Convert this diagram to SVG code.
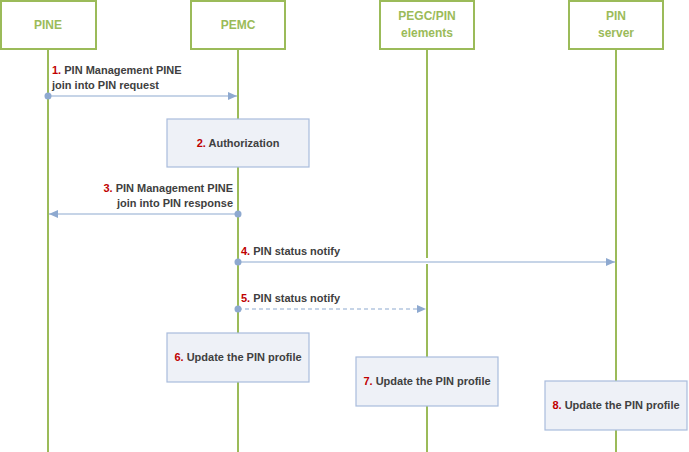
<svg xmlns="http://www.w3.org/2000/svg" width="689" height="452" viewBox="0 0 689 452">
<style>
text{font-family:"Liberation Sans",Arial,sans-serif;font-weight:bold}
.hdr{fill:#fff;stroke:#9BBB59;stroke-width:2}
.life{stroke:#9BBB59;stroke-width:2}
.ht{fill:#9BBB59;font-size:12px;text-anchor:middle}
.act{fill:#EEF1F7;stroke:#A9BCDC;stroke-width:1.2}
.t{fill:#404040;font-size:11px}
.n{fill:#C00000}
.msg{stroke:#8EA9D0;stroke-width:1.2;fill:none}
.dash{stroke-dasharray:4 3}
.dot{fill:#8EA9D0}
</style>
<defs>
<marker id="ah" markerWidth="10" markerHeight="8" refX="9" refY="4" orient="auto" markerUnits="userSpaceOnUse">
<path d="M0,0 L9,4 L0,8 Z" fill="#8EA9D0"/>
</marker>
</defs>
<rect width="689" height="452" fill="#fff"/>
<g id="PINE">
<line class="life" x1="48" y1="49" x2="48" y2="452"/>
<rect class="hdr" x="1" y="1" width="95" height="48"/>
<text class="ht" x="48" y="29">PINE</text>
</g>
<g id="PEMC">
<line class="life" x1="238" y1="49" x2="238" y2="452"/>
<rect class="hdr" x="191" y="1" width="94" height="48"/>
<text class="ht" x="238" y="29">PEMC</text>
</g>
<g id="PEGC">
<line class="life" x1="427" y1="49" x2="427" y2="452"/>
<rect class="hdr" x="380" y="1" width="94" height="48"/>
<text class="ht" x="427" y="20">PEGC/PIN</text>
<text class="ht" x="427" y="37">elements</text>
</g>
<g id="PINserver">
<line class="life" x1="616" y1="49" x2="616" y2="452"/>
<rect class="hdr" x="569" y="1" width="94" height="48"/>
<text class="ht" x="616" y="20">PIN</text>
<text class="ht" x="616" y="37">server</text>
</g>
<g id="step2">
<rect class="act" x="167" y="119" width="142" height="48"/>
<text class="t" x="238" y="147" text-anchor="middle"><tspan class="n">2.</tspan> Authorization</text>
</g>
<g id="step6">
<rect class="act" x="167" y="333" width="142" height="49"/>
<text class="t" x="238" y="361" text-anchor="middle"><tspan class="n">6.</tspan> Update the PIN profile</text>
</g>
<g id="step7">
<rect class="act" x="356" y="357" width="142" height="49"/>
<text class="t" x="427" y="385" text-anchor="middle"><tspan class="n">7.</tspan> Update the PIN profile</text>
</g>
<g id="step8">
<rect class="act" x="545" y="381" width="142" height="49"/>
<text class="t" x="616" y="409" text-anchor="middle"><tspan class="n">8.</tspan> Update the PIN profile</text>
</g>
<g id="connectors">
<line class="msg" x1="48" y1="96" x2="237" y2="96" marker-end="url(#ah)"/>
<circle class="dot" cx="48" cy="96" r="3.5"/>
<text class="t" x="52" y="74"><tspan class="n">1.</tspan> PIN Management PINE</text>
<text class="t" x="52" y="89">join into PIN request</text>

<line class="msg" x1="238" y1="214" x2="49" y2="214" marker-end="url(#ah)"/>
<circle class="dot" cx="238" cy="214" r="3.5"/>
<text class="t" x="233" y="192" text-anchor="end"><tspan class="n">3.</tspan> PIN Management PINE</text>
<text class="t" x="233" y="207" text-anchor="end">join into PIN response</text>

<line x1="427" y1="258" x2="427" y2="264" stroke="#fff" stroke-width="3"/>
<line class="msg" x1="238" y1="262" x2="615" y2="262" marker-end="url(#ah)"/>
<circle class="dot" cx="238" cy="262" r="3.5"/>
<text class="t" x="241" y="255"><tspan class="n">4.</tspan> PIN status notify</text>

<line class="msg dash" x1="238" y1="309" x2="426" y2="309" marker-end="url(#ah)"/>
<circle class="dot" cx="238" cy="309" r="3.5"/>
<text class="t" x="241" y="302"><tspan class="n">5.</tspan> PIN status notify</text>
</g>
</svg>
